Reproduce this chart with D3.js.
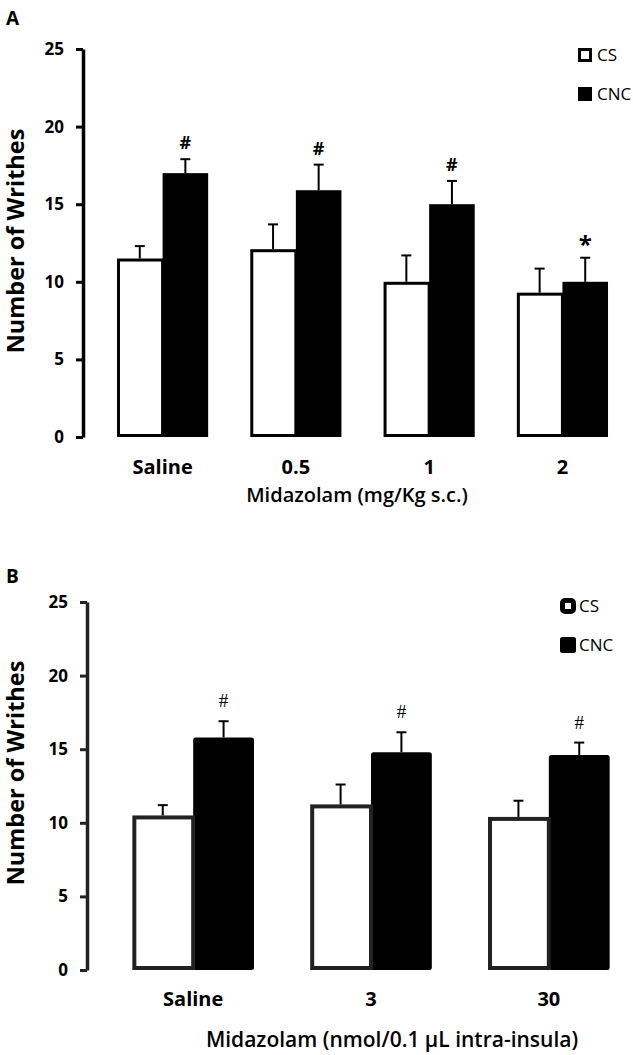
<!DOCTYPE html>
<html>
<head>
<meta charset="utf-8">
<script src="https://cdn.jsdelivr.net/npm/d3@7"></script>
<style>
  body{margin:0;background:#fff;}
  text{font-family:"Open Sans",sans-serif;}
</style>
</head>
<body>
<svg id="chart" width="633" height="1055"></svg>
<script>
// panel A: systemic midazolam
var groupsA=["Saline","0.5","1","2"];
var csA=[11.5,12.1,10.0,9.3];
var csErrA=[0.8,1.6,1.7,1.55];
var cncA=[17.0,15.9,15.0,10.0];
var cncErrA=[0.9,1.65,1.5,1.55];
var markA=["#","#","#","*"];

// panel B: intra-insula midazolam
var groupsB=["Saline","3","30"];
var csB=[10.5,11.25,10.4];
var csErrB=[0.7,1.35,1.1];
var cncB=[15.8,14.8,14.6];
var cncErrB=[1.1,1.35,0.85];
var markB=["#","#","#"];

var yTicks=[0,5,10,15,20,25];
var seriesNames=["CS","CNC"];

var svg=d3.select("#chart");

function drawPanel(opt){
    var g=svg.append("g");
    var y=d3.scaleLinear().domain([0,25]).range([opt.y0,opt.y25]);
    var x=d3.scaleBand().domain(opt.groups).range([opt.xAxis,opt.xEnd])
        .paddingInner(0.316).paddingOuter(0.255);
    var xs=d3.scaleBand().domain(seriesNames).range([0,x.bandwidth()]);

    // y axis
    var axis=d3.axisLeft(y).tickValues(yTicks).tickSize(7).tickPadding(12).tickSizeOuter(0);
    var ag=g.append("g").attr("transform","translate("+opt.xAxis+",0)").call(axis);
    ag.select(".domain").attr("stroke",opt.axisColor).attr("stroke-width",3.5);
    ag.selectAll(".tick line").attr("stroke",opt.axisColor).attr("stroke-width",3);
    ag.selectAll(".tick text").attr("fill","#000").style("font-size","17px").style("font-weight","bold")
        .style("font-family","'Open Sans',sans-serif");

    var rows=opt.groups.map(function(d,i){
        return {g:d,cs:opt.cs[i],csErr:opt.csErr[i],cnc:opt.cnc[i],cncErr:opt.cncErr[i],mark:opt.mark[i]};
    });

    var sw=opt.csStroke;
    // CNC bars
    g.selectAll(".cnc").data(rows).enter().append("rect")
        .attr("x",function(d){return x(d.g)+xs("CNC");})
        .attr("y",function(d){return y(d.cnc);})
        .attr("width",xs.bandwidth())
        .attr("height",function(d){return y(0)-y(d.cnc);})
        .attr("rx",opt.rx).attr("fill","#000");
    // CS bars (outlined)
    g.selectAll(".cs").data(rows).enter().append("rect")
        .attr("x",function(d){return x(d.g)+xs("CS")+sw/2;})
        .attr("y",function(d){return y(d.cs)+sw/2;})
        .attr("width",xs.bandwidth()-sw/2)
        .attr("height",function(d){return y(0)-y(d.cs)-sw;})
        .attr("fill","#fff").attr("stroke",opt.axisColor).attr("stroke-width",sw);

    // error bars (upper only)
    var errs=[];
    rows.forEach(function(d){
        errs.push({cx:x(d.g)+xs("CS")+xs.bandwidth()/2,v:d.cs,e:d.csErr});
        errs.push({cx:x(d.g)+xs("CNC")+xs.bandwidth()/2,v:d.cnc,e:d.cncErr});
    });
    g.selectAll(".ev").data(errs).enter().append("line")
        .attr("x1",function(d){return d.cx;}).attr("x2",function(d){return d.cx;})
        .attr("y1",function(d){return y(d.v);}).attr("y2",function(d){return y(d.v+d.e);})
        .attr("stroke","#000").attr("stroke-width",2);
    g.selectAll(".ec").data(errs).enter().append("line")
        .attr("x1",function(d){return d.cx-5;}).attr("x2",function(d){return d.cx+5;})
        .attr("y1",function(d){return y(d.v+d.e);}).attr("y2",function(d){return y(d.v+d.e);})
        .attr("stroke","#000").attr("stroke-width",2);

    // significance marks (asterisk glyph sits high, so it gets its own size/offset)
    g.selectAll(".mk").data(rows).enter().append("text")
        .text(function(d){return d.mark;})
        .attr("x",function(d){return x(d.g)+xs("CNC")+xs.bandwidth()/2;})
        .attr("y",function(d){return y(d.cnc+d.cncErr)-(d.mark=="*"?5:opt.markGap);})
        .attr("text-anchor","middle")
        .style("font-family",opt.markFont).style("font-weight",opt.markWeight)
        .style("font-size",function(d){return d.mark=="*"?"24px":opt.markSize;});

    // category labels
    g.selectAll(".cat").data(opt.groups).enter().append("text")
        .text(function(d){return d;})
        .attr("x",function(d){return x(d)+x.bandwidth()/2;})
        .attr("y",opt.catY).attr("text-anchor","middle")
        .style("font-size","20px").style("font-weight","bold");

    // axis titles
    g.append("text").text(opt.xTitle).attr("x",opt.xTitleX).attr("y",opt.xTitleY)
        .attr("text-anchor","middle").style("font-size",opt.xTitleSize).style("font-weight","600");
    g.append("text").text("Number of Writhes")
        .attr("transform","translate(24,"+opt.yTitleY+") rotate(-90)")
        .attr("text-anchor","middle").style("font-size","23.5px").style("font-weight","bold");

    // panel letter
    g.append("text").text(opt.letter).attr("x",6).attr("y",opt.letterY)
        .style("font-size","19px").style("font-weight","bold");

    // legend
    var lg=g.selectAll(".lg").data(seriesNames).enter().append("g")
        .attr("transform",function(d,i){return "translate("+opt.legX+","+(opt.legY+i*opt.legStep)+")";});
    lg.append("rect").attr("x",function(d){return d=="CS"?opt.legStroke/2:0;})
        .attr("y",function(d){return d=="CS"?opt.legStroke/2:0;})
        .attr("width",function(d){return d=="CS"?opt.legSize-opt.legStroke:opt.legSize;})
        .attr("height",function(d){return d=="CS"?opt.legSize-opt.legStroke:opt.legSize;})
        .attr("rx",opt.rx)
        .attr("fill",function(d){return d=="CS"?"#fff":"#000";})
        .attr("stroke",function(d){return d=="CS"?"#000":"none";})
        .attr("stroke-width",opt.legStroke);
    lg.append("text").text(function(d){return d;})
        .attr("x",opt.legSize+opt.legTextGap).attr("y",opt.legSize/2+6)
        .style("font-size","17px");
}

drawPanel({
    letter:"A",letterY:25,
    groups:groupsA,cs:csA,csErr:csErrA,cnc:cncA,cncErr:cncErrA,mark:markA,
    y0:437,y25:49,xAxis:83,xEnd:642,
    axisColor:"#000",csStroke:3,rx:0,
    markFont:"'Open Sans',sans-serif",markWeight:"bold",markGap:10,markSize:"18px",
    catY:474,xTitle:"Midazolam (mg/Kg s.c.)",xTitleX:357,xTitleY:502,xTitleSize:"20px",yTitleY:241,
    legX:578,legY:48,legStep:39,legSize:14,legStroke:3,legTextGap:5
});

drawPanel({
    letter:"B",letterY:583,
    groups:groupsB,cs:csB,csErr:csErrB,cnc:cncB,cncErr:cncErrB,mark:markB,
    y0:970,y25:602,xAxis:87,xEnd:655,
    axisColor:"#222",csStroke:4,rx:2.5,
    markFont:"'Liberation Serif',serif",markWeight:"normal",markGap:14,markSize:"19px",
    catY:1006,xTitle:"Midazolam (nmol/0.1 μL intra-insula)",xTitleX:392,xTitleY:1047,xTitleSize:"21px",yTitleY:773,
    legX:560,legY:598,legStep:39,legSize:16,legStroke:5,legTextGap:3
});
</script>
</body>
</html>
